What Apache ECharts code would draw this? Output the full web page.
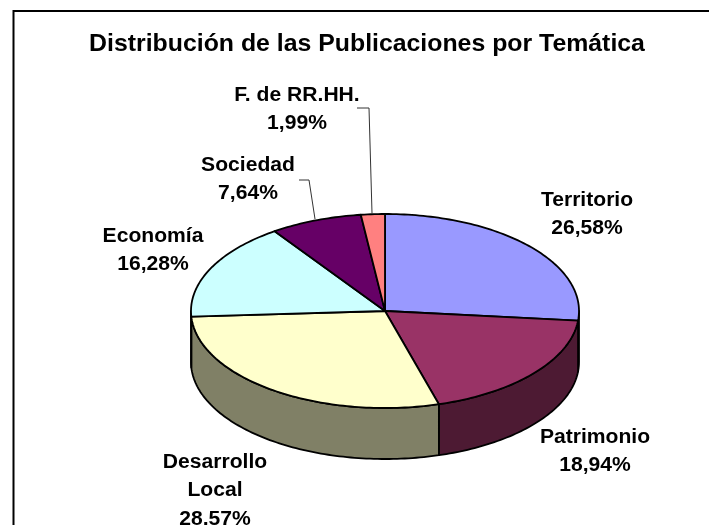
<!DOCTYPE html>
<html>
<head>
<meta charset="utf-8">
<style>
html,body{margin:0;padding:0;background:#fff}
#main{width:709px;height:525px}
</style>
<script src="https://cdn.jsdelivr.net/npm/echarts@6/dist/echarts.min.js"></script>
</head>
<body>
<div id="main"></div>
<script>
// datos
var chartTitle='Distribución de las Publicaciones por Temática';
var categories=['Territorio','Patrimonio','Desarrollo\nLocal','Economía','Sociedad','F. de RR.HH.'];
var percents=[26.58,18.94,28.57,16.28,7.64,1.99];
var percentTexts=['26,58%','18,94%','28,57%','16,28%','7,64%','1,99%'];
var topColors=['#9999ff','#993366','#ffffcc','#ccffff','#660066','#ff8080'];
var sideColors=['#4d4d80','#4d1a33','#808066','#668080','#330033','#804040'];

// geometria de la tarta (elipse)
var cx=385,cy=311,rx=194,ry=97,depth=51;
// centro de cada etiqueta
var labelCenters=[[587,214.5],[595,451.5],[215,490.5],[153,250.5],[248,179.5],[297,109.5]];
var leaderLines=[null,null,null,null,[[299,180],[309,180],[315,219]],[[357,108],[369,108],[372,213]]];
var fontFamily='"Liberation Sans",Arial,sans-serif';

function pt(a,dy){
	return [cx+rx*Math.sin(a),cy+ry*-Math.cos(a)+(dy||0)];
}
function angles(idx){
	var sum=0,total=0;
	for(var i=0;i<percents.length;i++){
		if(i<idx) sum+=percents[i];
		total+=percents[i];
	}
	return [sum/total*Math.PI*2,(sum+percents[idx])/total*Math.PI*2];
}
function arc(a0,a1,dy){
	var n=Math.max(2,Math.ceil((a1-a0)/0.02)),pts=[];
	for(var i=0;i<=n;i++) pts.push(pt(a0+(a1-a0)*i/n,dy));
	return pts;
}

function renderSide(params,api){
	var idx=api.value(0);
	var an=angles(idx);
	// solo se ve la parte de abajo
	var a0=Math.max(an[0],Math.PI/2),a1=Math.min(an[1],Math.PI*1.5);
	if(a1<=a0) return {type:'group',children:[]};
	var pts=arc(a0,a1,0).concat(arc(a0,a1,depth).reverse());
	return {type:'polygon',shape:{points:pts},style:{fill:sideColors[idx],stroke:'#000',lineWidth:1.8,lineJoin:'round'}};
}
function renderTop(params,api){
	var idx=api.value(0);
	var an=angles(idx);
	var pts=[[cx,cy]].concat(arc(an[0],an[1],0));
	return {type:'polygon',shape:{points:pts},style:{fill:topColors[idx],stroke:'#000',lineWidth:1.8,lineJoin:'round'}};
}
function renderLabel(params,api){
	var idx=api.value(0);
	var c=labelCenters[idx];
	var kids=[{
		type:'text',x:c[0],y:c[1],scaleX:1.055,
		style:{
			text:categories[idx]+'\n'+percentTexts[idx],
			font:'bold 20px '+fontFamily,
			lineHeight:28.5,
			fill:'#000',align:'center',verticalAlign:'middle'
		}
	}];
	if(leaderLines[idx]){
		kids.push({type:'polyline',shape:{points:leaderLines[idx]},style:{fill:null,stroke:'#333',lineWidth:1}});
	}
	return {type:'group',children:kids};
}

var rows=percents.map(function(v,i){return [i,v];});
var chart=echarts.init(document.getElementById('main'),null,{renderer:'canvas'});
chart.setOption({
	animation:false,
	backgroundColor:'#fff',
	graphic:[
		{type:'rect',shape:{x:13.5,y:11,width:760,height:600},style:{fill:'#fff',stroke:'#000',lineWidth:2},z:-1},
		{type:'text',x:367,y:44.5,scaleX:1.035,z:5,style:{text:chartTitle,font:'bold 24px '+fontFamily,fill:'#000',align:'center',verticalAlign:'middle'}}
	],
	series:[
		{type:'custom',coordinateSystem:'none',data:rows,renderItem:renderSide,z:2,silent:true},
		{type:'custom',coordinateSystem:'none',data:rows,renderItem:renderTop,z:3,silent:true},
		{type:'custom',coordinateSystem:'none',data:rows,renderItem:renderLabel,z:4,silent:true}
	]
});
</script>
</body>
</html>
